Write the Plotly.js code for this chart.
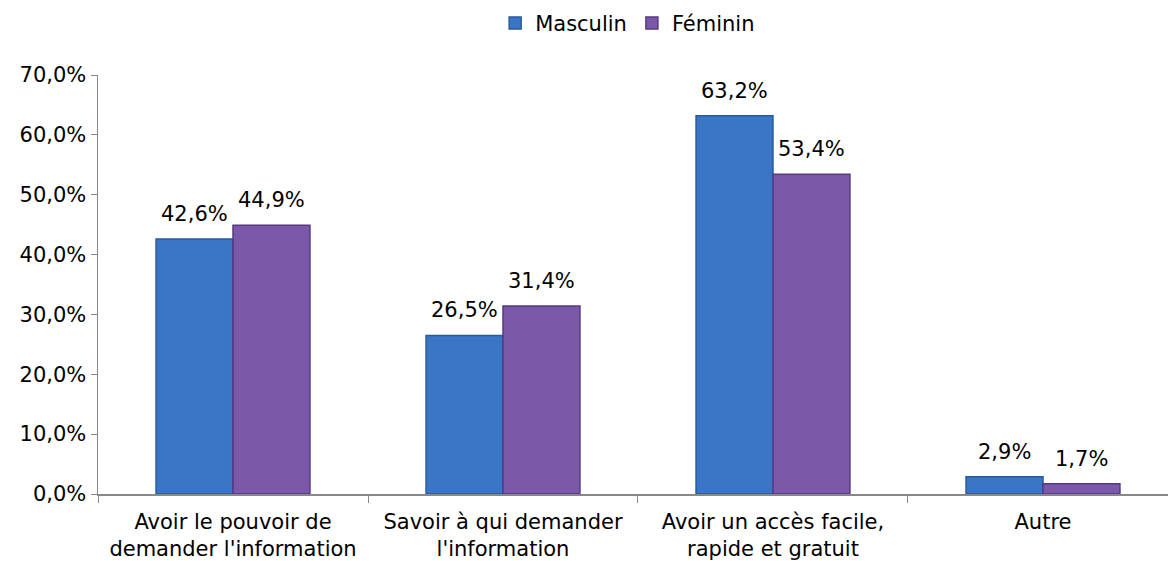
<!DOCTYPE html>
<html><head><meta charset="utf-8">
<script src="https://cdn.plot.ly/plotly-3.0.1.min.js"></script>
<style>html,body{margin:0;padding:0;background:#fff}</style>
</head><body>
<div id="chart" style="width:1168px;height:561px"></div>
<script>
const categories = [
  "Avoir le pouvoir de<br>demander l'information",
  "Savoir à qui demander<br>l'information",
  "Avoir un accès facile,<br>rapide et gratuit",
  "Autre"
];
const masculin = [42.6, 26.5, 63.2, 2.9];
const feminin = [44.9, 31.4, 53.4, 1.7];
const yTickVals = [0, 10, 20, 30, 40, 50, 60, 70];
const yTickText = ["0,0%", "10,0%", "20,0%", "30,0%", "40,0%", "50,0%", "60,0%", "70,0%"];

const FAMILY = "DejaVu Sans, Liberation Sans, Arial, sans-serif";
const font = {family: FAMILY, size: 21, color: "#000"};
function fmt(v) { return v.toFixed(1).replace(".", ",") + "%"; }

function series(name, vals, color, line) {
  return {
    type: "bar", name: name, x: categories, y: vals,
    marker: {color: color, line: {color: line, width: 1.5}},
    textposition: "none", hoverinfo: "none"
  };
}
const data = [
  series("Masculin", masculin, "#3b76c6", "#2a5a9e"),
  series("Féminin", feminin, "#7b58a9", "#563a80")
];

const annotations = [];
[[masculin, -38.5], [feminin, 38.5]].forEach(([vals, dx]) => {
  vals.forEach((v, i) => {
    annotations.push({
      x: categories[i], y: v, xref: "x", yref: "y",
      text: fmt(v), showarrow: false, xshift: dx, yshift: 11,
      yanchor: "bottom", xanchor: "center", font: font
    });
  });
});

const layout = {
  width: 1168, height: 561,
  margin: {l: 98, r: 0, t: 75, b: 67},
  paper_bgcolor: "#fff", plot_bgcolor: "#fff",
  font: font,
  barmode: "group", bargap: 0.43, bargroupgap: 0,
  showlegend: true,
  legend: {orientation: "h", x: 0.495, xanchor: "center", y: 0.995, yref: "container", yanchor: "top",
           font: font, traceorder: "normal"},
  annotations: annotations,
  xaxis: {
    range: [-0.5, 3.463], showline: true, linecolor: "#888", linewidth: 1.5,
    ticks: "outside", tickson: "boundaries", ticklen: 7, tickcolor: "#888",
    ticklabelstandoff: 8,
    tickfont: font, showgrid: false, zeroline: false, fixedrange: true
  },
  yaxis: {
    range: [0, 70], tickmode: "array", tickvals: yTickVals, ticktext: yTickText,
    showline: true, linecolor: "#888", linewidth: 1.5,
    ticks: "outside", ticklen: 6, tickcolor: "#888",
    tickfont: font, showgrid: false, zeroline: false, fixedrange: true
  }
};
Plotly.newPlot("chart", data, layout, {staticPlot: true});
</script>
</body></html>
